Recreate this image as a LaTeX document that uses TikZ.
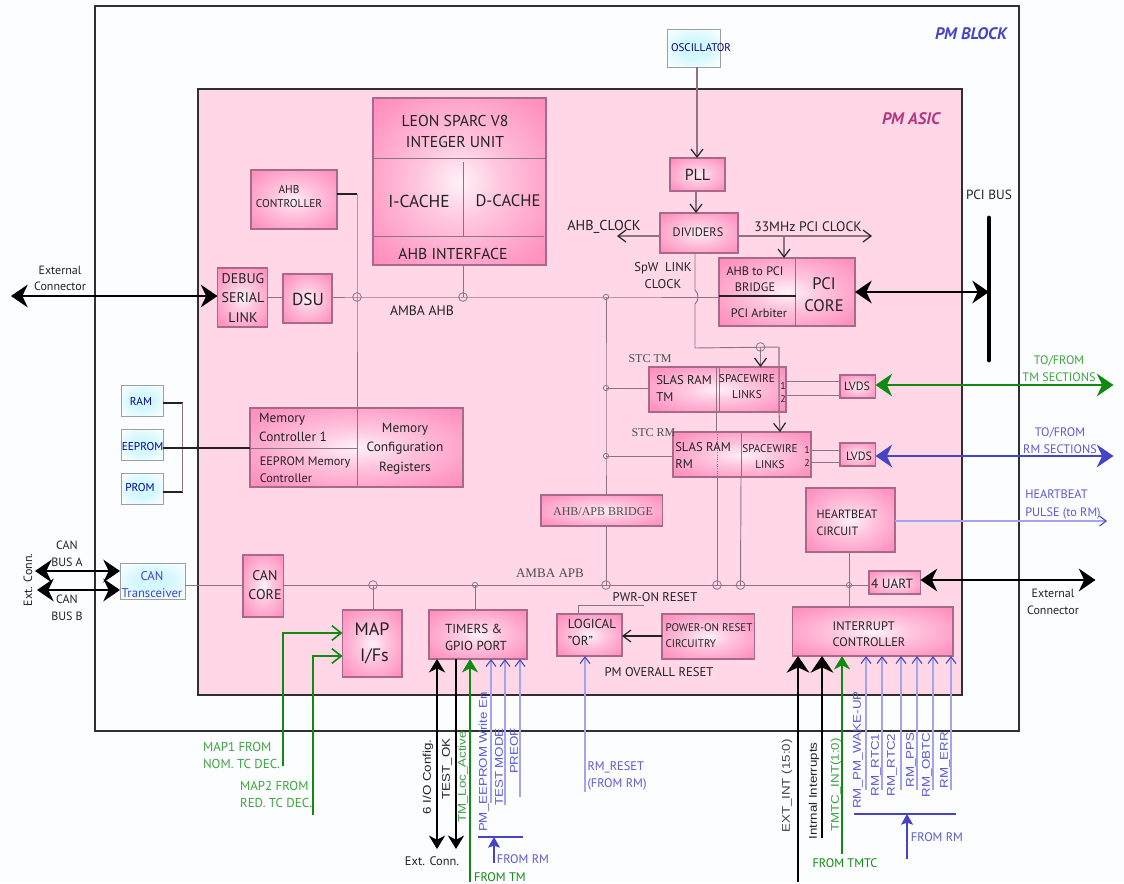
\documentclass[tikz,border=0pt]{standalone}
\usepackage{fontspec}
\setmainfont{PT Sans}
\newfontfamily\serf{Liberation Serif}
\newfontfamily\arial{Liberation Sans}
\usetikzlibrary{arrows.meta}
\definecolor{bgc}{HTML}{FCFDFF}
\definecolor{asicf}{HTML}{FFD7E7}
\definecolor{frame}{HTML}{303030}
\definecolor{edgec}{HTML}{A86A88}
\definecolor{wire}{HTML}{8E7482}
\definecolor{ink}{HTML}{222222}
\definecolor{blueD}{HTML}{4444C4}
\definecolor{blueT}{HTML}{5A5AD0}
\definecolor{blueL}{HTML}{A4A4EC}
\definecolor{greenD}{HTML}{108A10}
\definecolor{greenT}{HTML}{3FA33F}
\definecolor{pkA}{HTML}{FFF2F8}
\definecolor{pkB}{HTML}{FFC6DF}
\definecolor{pkC}{HTML}{FF96C2}
\definecolor{pkD}{HTML}{FF70A8}
\definecolor{cyA}{HTML}{D4F8FF}
\definecolor{cyB}{HTML}{F4FDFF}
\pgfdeclareradialshading{pinkrad}{\pgfpoint{0bp}{0bp}}{color(0bp)=(pkA); color(12bp)=(pkB); color(30bp)=(pkC); color(50bp)=(pkD)}
\pgfdeclareradialshading{cyanrad}{\pgfpoint{0bp}{0bp}}{color(0bp)=(cyA); color(14bp)=(cyA); color(30bp)=(cyB); color(38bp)=(white)}
\newcommand{\bx}[6]{%
  \pgfmathsetmacro\bw{(#5-#3)*0.75}\pgfmathsetmacro\bh{(#6-#4)*0.75}%
  \node[#1,minimum width=\bw pt,minimum height=\bh pt] (#2) at ({(#3+#5)/2},{(#4+#6)/2}) {};}
\newcommand{\rt}[1]{\scalebox{1}[0.84]{#1}}
\tikzset{
  frm/.style={draw=frame,line width=1.1pt,inner sep=0pt,outer sep=0pt},
  pinkbox/.style={draw=edgec,line width=0.8pt,shading=pinkrad,inner sep=0pt,outer sep=0pt},
  cyanbox/.style={draw=gray!75,line width=0.7pt,shading=cyanrad,inner sep=0pt,outer sep=0pt},
  sz/.style 2 args={font=\fontsize{#1}{#2}\selectfont},
  lbl/.style={inner sep=0pt,outer sep=0pt,align=center,text=ink},
  lbll/.style={inner sep=0pt,outer sep=0pt,align=left,text=ink},
  serlbl/.style={inner sep=0pt,outer sep=0pt,text=ink!80,font=\fontsize{9}{11}\selectfont\serf},
  rotb/.style={inner sep=0pt,outer sep=0pt,rotate=90,font=\fontsize{10}{12}\selectfont\arial},
  wireS/.style={draw=wire,line width=0.7pt},
  wireK/.style={draw=ink,line width=1pt},
  junc/.style={circle,draw=wire,line width=0.6pt,minimum size=6.5pt,inner sep=0pt,fill=none},
  juncS/.style={circle,draw=wire,line width=0.6pt,minimum size=4pt,inner sep=0pt,fill=asicf!60},
  thinTip/.style={-{Straight Barb[length=6pt,width=9pt,line width=0.9pt,ink]}},
  bigK/.style={draw=black,line width=1.7pt},
  bigG/.style={draw=greenD,line width=1.4pt},
  bigB/.style={draw=blueD,line width=1.2pt},
  Bhead/.tip={Stealth[length=12.5pt,width=17pt,inset=4pt]},
  Mhead/.tip={Stealth[length=10pt,width=12pt,inset=3pt]},
  Ghead/.tip={Stealth[length=10pt,width=12pt,inset=3pt]},
  thinB/.style={draw=blueL,line width=0.8pt},
  thinBtip/.style={-{Straight Barb[length=5pt,width=7.5pt,line width=0.8pt,blueD]}},
}
\begin{document}
\begin{tikzpicture}[x=0.75pt,y=-0.75pt]
\useasboundingbox (0,0) rectangle (1124,883);
\fill[bgc] (0,0) rectangle (1124,883);
% frames
\bx{frm,fill=bgc}{pmblock}{95}{6}{1019}{731}
\bx{frm,fill=asicf}{pmasic}{198}{89}{962}{695}
\node[inner sep=0pt,text=blueD,font=\fontsize{12.5}{14}\selectfont\bfseries\itshape] (tblock) at (971,34) {PM BLOCK};
\node[inner sep=0pt,text=magenta!70!black,font=\fontsize{12.5}{14}\selectfont\bfseries\itshape] (tasic) at (911,119) {PM ASIC};
% boxes
\bx{cyanbox}{osc}{667}{29}{720}{67}
\bx{pinkbox}{pll}{670}{158}{725}{191}
\bx{pinkbox}{div}{660}{213}{738}{253}
\bx{pinkbox}{leon}{373}{98}{546}{265}
\bx{pinkbox}{ahbc}{251}{170}{337}{229}
\bx{pinkbox}{dbg}{217.5}{268}{267.5}{327}
\bx{pinkbox}{dsu}{283}{274}{332}{323}
\bx{pinkbox}{pci}{719}{258}{855}{326}
\bx{pinkbox}{stm}{649}{367}{786}{412}
\bx{pinkbox}{srm}{673}{432}{811}{477}
\bx{pinkbox}{ltm}{840}{375}{875.5}{398}
\bx{pinkbox}{lrm}{840}{443}{875.5}{466}
\bx{cyanbox}{ram}{121}{385}{163}{416}
\bx{cyanbox}{eep}{121}{429}{163}{460}
\bx{cyanbox}{prom}{121}{473}{163}{504}
\bx{pinkbox}{mem}{250}{408}{463}{487}
\bx{cyanbox}{can}{120}{563}{185}{599}
\bx{pinkbox}{canc}{243}{555}{283.5}{617}
\bx{pinkbox}{map}{342.5}{610}{402}{677}
\bx{pinkbox}{tim}{429}{610}{527}{659}
\bx{pinkbox}{brg}{541}{495}{662.5}{526}
\bx{pinkbox}{hb}{806}{488}{895}{552}
\bx{pinkbox}{uart}{869}{571}{920.5}{594}
\bx{pinkbox}{lor}{557}{614}{622}{656}
\bx{pinkbox}{por}{662}{614}{754.5}{659}
\bx{pinkbox}{irq}{792.5}{607}{953}{656}
% junctions
\node[junc] (j1) at (357,297) {};
\node[junc] (j2) at (463,297) {};
\node[juncS] (j3) at (606,297) {};
\node[juncS] (j4) at (606,388) {};
\node[juncS] (j5) at (606,456) {};
\node[junc] (j6) at (760.5,347) {};
\node[junc] (a1) at (373,585) {};
\node[juncS] (a2) at (475,585) {};
\node[junc] (a3) at (606,585) {};
\node[junc] (a4) at (717,585) {};
\node[junc] (a5) at (740.5,585) {};
\node[juncS] (a6) at (849,585) {};
% internal dividers of multi-part blocks
\draw[wireS] (373,158) -- (546,158);
\draw[wireS] (373,236) -- (544,236);
\draw[wireS] (463,162) -- (463,236);
\draw[wireS] (795.5,258) -- (795.5,326);
\draw[wireK,line width=1pt] (719,296) -- (795.5,296);
\draw[wireS] (716,367) -- (716,412);
\draw[wireS] (719,367) -- (719,412);
\draw[wireS,densely dotted] (779,367) -- (779,412);
\draw[wireS,densely dotted] (717,432) -- (717,477);
\draw[wireS] (741,432) -- (741,477);
\draw[wireS] (357,408) -- (357,487);
\draw[wireS] (250,448) -- (357,448);
% AHB bus
\coordinate (busE) at (719,297);
\draw[wireS] (dbg.east |- j1) -- (dsu.west |- j1);
\draw[wireS] (dsu.east |- j1) -- (j1.center) -- (j2.center) -- (j3.center) -- (busE);
\draw[wireS] (j2.center) -- (leon.south -| j2);
\draw[wireK] (ahbc.east |- 0,194) -- (357,194);
\draw[wireS] (357,194) -- (j1.center) -- (mem.north -| j1);
\draw[wireS] (j3.center) -- (j4.center) -- (j5.center) -- (brg.north -| j3);
\draw[wireS] (j4.center) -- (stm.west |- j4);
\draw[wireS] (j5.center) -- (srm.west |- j5);
% clocks
\draw[wire,line width=0.9pt,thinTip] (osc.south -| 697,0) -- (pll.north -| 697,0);
\draw[wire,line width=0.9pt,thinTip] (pll.south -| 696,0) -- (div.north -| 696,0);
\coordinate (ahbclk) at (617,236);
\coordinate (pciclk) at (872,236);
\coordinate (hopA) at (695,290);
\coordinate (hopB) at (695,304);
\coordinate (spwC) at (695,348);
\coordinate (spwR) at (779,347);
\draw[wire,line width=0.8pt,thinTip] (div.west |- ahbclk) -- (ahbclk);
\draw[wire,line width=0.8pt,thinTip] (div.east |- pciclk) -- (pciclk);
\draw[wire,line width=0.8pt,thinTip] (784,236) -- (pci.north -| 784,0);
\draw[wireS] (div.south -| hopA) -- (hopA) .. controls (699,293) and (699,301) .. (hopB) -- (spwC) -- (spwR);
\draw[wire,line width=0.8pt,thinTip] (j6.center) -- (stm.north -| j6);
\draw[wire,line width=0.8pt,thinTip] (spwR) -- (779,412) -- (srm.north -| 780,0);
% spacewire to bus, LVDS
\draw[wireS] (716.5,412) -- (716.5,432);
\draw[wireS] (717,477) -- (a4.center);
\draw[wireS] (741,477) -- (a5.center);
\draw[wireS] (stm.east |- 0,381) -- (ltm.west |- 0,381);
\draw[wireS] (stm.east |- 0,395) -- (ltm.west |- 0,395);
\draw[wireS] (srm.east |- 0,450) -- (lrm.west |- 0,450);
\draw[wireS] (srm.east |- 0,462) -- (lrm.west |- 0,462);
% APB bus
\draw[wireS] (can.east |- a1) -- (canc.west |- a1);
\draw[wireS] (canc.east |- a1) -- (a1.center) -- (a2.center) -- (a3.center) -- (a4.center) -- (a5.center) -- (a6.center) -- (uart.west |- a6);
\draw[wireS] (a1.center) -- (map.north -| a1);
\draw[wireS] (a2.center) -- (tim.north -| a2);
\draw[wireS] (brg.south -| a3) -- (a3.center);
\draw[wireS] (hb.south -| a6) -- (a6.center) -- (irq.north -| a6);
% memories
\coordinate (brT) at (182.5,403);
\coordinate (brB) at (182.5,492);
\draw[wireK] (ram.east |- brT) -- (brT);
\draw[wireK] (prom.east |- brB) -- (brB);
\draw[wireS] (brT) -- (brB);
\draw[wireK] (eep.east |- 0,448) -- (mem.west |- 0,448);
% reset
\coordinate (pwrR) at (643.5,605);
\coordinate (pwrL) at (578.5,605);
\draw[wireS] (pwrR) -- (pwrL) -- (lor.north -| pwrL);
\draw[wire,line width=0.8pt,thinTip,draw=ink] (por.west |- 0,636) -- (lor.east |- 0,636);
% thick bidirectional arrows
\coordinate (extL) at (11,296);
\draw[bigK,Bhead-Bhead] (extL) -- (dbg.west |- extL);
\coordinate (canAL) at (35,571);
\coordinate (canBL) at (37,590);
\draw[bigK,Bhead-Bhead] (canAL) -- (can.west |- canAL);
\draw[bigK,Bhead-Bhead] (canBL) -- (can.west |- canBL);
\coordinate (pciB) at (989,292);
\draw[bigK,Bhead-Bhead] (pci.east |- pciB) -- (pciB);
\coordinate (pciT) at (989,218);
\coordinate (pciBt) at (989,360);
\draw[black,line width=3.6pt,line cap=round] (pciT) -- (pciBt);
\coordinate (tmR) at (1113.5,385);
\coordinate (rmR) at (1113.5,456);
\coordinate (uartR) at (1095.5,580);
\draw[bigG,Bhead-Bhead] (ltm.east |- tmR) -- (tmR);
\draw[bigB,Bhead-Bhead] (lrm.east |- rmR) -- (rmR);
\draw[bigK,Bhead-Bhead] (uart.east |- uartR) -- (uartR);
\coordinate (hbR) at (1107,521);
\draw[blueL,line width=0.8pt,-{Straight Barb[length=5pt,width=7.5pt,line width=0.8pt,blueD]}] (hb.east |- hbR) -- (hbR);
% MAP
\coordinate (m1B) at (283,766);
\coordinate (m2B) at (313,815);
\draw[bigG,line width=1pt,-{Straight Barb[length=7pt,width=11pt,line width=1.2pt]}] (m1B) -- (283,633) -- (map.west |- 0,633);
\draw[bigG,line width=1pt,-{Straight Barb[length=7pt,width=11pt,line width=1.2pt]}] (m2B) -- (313,656) -- (map.west |- 0,656);
% timers signals
\coordinate (io) at (437,849);
\coordinate (tok) at (456,849);
\coordinate (ftm) at (470,882);
\draw[bigK,Mhead-Mhead] (tim.south -| io) -- (io);
\draw[bigK,-Mhead] (tim.south -| tok) -- (tok);
\draw[bigG,-Ghead] (ftm) -- (tim.south -| ftm);
\coordinate (pe) at (491,803);
\coordinate (tm) at (505,805);
\coordinate (pr) at (520,797);
\draw[thinB,thinBtip] (pe) -- (tim.south -| pe);
\draw[thinB,thinBtip] (tm) -- (tim.south -| tm);
\draw[thinB,thinBtip] (pr) -- (tim.south -| pr);
\coordinate (fr1L) at (478,837);
\coordinate (fr1R) at (523,837);
\coordinate (fr1U) at (494,837);
\coordinate (fr1B) at (494,863);
\draw[blueD,line width=1pt] (fr1L) -- (fr1R);
\draw[blueD,line width=1pt,-{Stealth[length=8pt,width=9pt,inset=1.5pt]}] (fr1B) -- (fr1U);
\coordinate (rr) at (585,792);
\draw[thinB,thinBtip] (rr) -- (lor.south -| rr);
% interrupts
\coordinate (iext) at (798,882);
\coordinate (iint) at (822,838);
\coordinate (itm) at (842,854);
\draw[bigK,-Bhead] (iext) -- (irq.south -| iext);
\draw[bigK,-Bhead] (iint) -- (irq.south -| iint);
\draw[bigG,-Ghead] (itm) -- (irq.south -| itm);
\foreach \n/\xx in {r1/866,r2/882,r3/901,r4/917,r5/933,r6/951}{
  \coordinate (\n) at (\xx,790);
  \draw[thinB,thinBtip] (\n) -- (irq.south -| \n);
}
\coordinate (fr2L) at (854,814);
\coordinate (fr2R) at (956,814);
\coordinate (fr2U) at (907,814);
\coordinate (fr2B) at (907,859);
\draw[blueD,line width=1pt] (fr2L) -- (fr2R);
\draw[blueD,line width=1pt,-{Stealth[length=8pt,width=9pt,inset=1.5pt]}] (fr2B) -- (fr2U);
% box labels
\node[lbl,sz={8.3}{10},text=blue!50!black] (tosc) at (701,48) {OSCILLATOR};
\node[lbl,sz={11.8}{15.5}] (t1) at (455,131.5) {LEON SPARC V8\\INTEGER UNIT};
\node[lbl,sz={13}{14}] (t2) at (419,201) {I-CACHE};
\node[lbl,sz={12.5}{14}] (t3) at (508,201) {D-CACHE};
\node[lbl,sz={11.8}{14}] (t4) at (453,254) {AHB INTERFACE};
\node[lbl,sz={8.5}{11}] (t5) at (289,196.5) {AHB\\CONTROLLER};
\node[lbl,sz={10.5}{14.5}] (t6) at (243,298) {DEBUG\\SERIAL\\LINK};
\node[lbl,sz={13}{15}] (t7) at (308,299) {DSU};
\node[lbl,sz={10.3}{11}] (t8) at (422,311) {AMBA AHB};
\node[lbl,sz={9}{12.5}] (t9) at (60,278.5) {External\\Connector};
\node[lbl,sz={12}{14}] (tpll) at (697.5,175) {PLL};
\node[lbl,sz={9.2}{11}] (tdiv) at (698,232) {DIVIDERS};
\node[lbl,sz={10.7}{12}] (tac) at (604,227) {AHB\_CLOCK};
\node[lbl,sz={10.3}{12}] (tpc) at (808,227) {33MHz PCI CLOCK};
\node[lbl,sz={9.5}{13}] (tsp) at (663,275.5) {SpW\ \ LINK\\CLOCK};
\node[lbl,sz={9.2}{12.2}] (tb1) at (755,279) {AHB to PCI\\BRIDGE};
\node[lbl,sz={9.2}{11}] (tb2) at (759,313) {PCI Arbiter};
\node[lbl,sz={12.5}{16.5}] (tb3) at (824,295) {PCI\\CORE};
\node[lbl,sz={10}{12}] (tbus) at (989,195) {PCI BUS};
\node[serlbl] (tstm) at (650,359) {STC TM};
\node[serlbl] (tsrm) at (653.5,433) {STC RM};
\node[lbll,sz={9.5}{13}] (ts1) at (684,388.5) {SLAS RAM\\TM};
\node[lbl,sz={8.5}{12}] (ts2) at (747,387) {SPACEWIRE\\LINKS};
\node[lbl,sz={7.5}{10}] (ts3) at (783,392.5) {1\\2};
\node[lbll,sz={9.5}{13}] (ts4) at (703,455.5) {SLAS RAM\\RM};
\node[lbl,sz={8.4}{12}] (ts5) at (770,457) {SPACEWIRE\\LINKS};
\node[lbl,sz={7.5}{10}] (ts6) at (807,456.5) {1\\2};
\node[lbl,sz={9}{11}] (tl1) at (857,386) {LVDS};
\node[lbl,sz={9}{11}] (tl2) at (859,456) {LVDS};
\node[lbl,sz={9.2}{12.8},text=greenT] (tg) at (1059,368.5) {TO/FROM\\TM SECTIONS};
\node[lbl,sz={9.2}{12.8},text=blueT] (tbl) at (1060,440.5) {TO/FROM\\RM SECTIONS};
\node[lbl,sz={8.5}{11},text=blue!60!black] (tr1) at (141,401) {RAM};
\node[lbl,sz={8.5}{11},text=blue!60!black] (tr2) at (142.5,447) {EEPROM};
\node[lbl,sz={8.5}{11},text=blue!60!black] (tr3) at (140,488) {PROM};
\node[lbll,sz={10}{14}] (tm1) at (293,427.5) {Memory\\Controller 1};
\node[lbll,sz={9.2}{13}] (tm2) at (305,469.5) {EEPROM Memory\\Controller};
\node[lbl,sz={10}{14.6}] (tm3) at (405,448.5) {Memory\\Configuration\\Registers};
\node[lbl,sz={9.5}{12.8},text=blueD] (tc1) at (152,584.5) {CAN\\Transceiver};
\node[lbl,sz={9}{12.5}] (tc2) at (67,554) {CAN\\BUS A};
\node[lbl,sz={9}{12.5}] (tc3) at (67,607.5) {CAN\\BUS B};
\node[lbl,sz={9}{11},rotate=90] (tc4) at (28,580) {Ext. Conn.};
\node[lbl,sz={10.5}{14}] (tc5) at (265,585) {CAN\\CORE};
\node[lbl,sz={13.5}{19}] (tmap) at (372,643.5) {MAP\\\ I/Fs};
\node[lbll,sz={9.8}{12.8}] (ttim) at (476,637.5) {TIMERS \&\\GPIO PORT};
\node[inner sep=0pt,text=ink!80,font=\fontsize{9.8}{11}\selectfont\serf] (tapb) at (550,573) {AMBA APB};
\node[serlbl] (tbrg) at (603,512) {AHB/APB BRIDGE};
\node[lbll,sz={9}{12.8}] (thb) at (847,522.5) {HEARTBEAT\\CIRCUIT};
\node[lbl,sz={10}{12}] (tua) at (892,584) {4 UART};
\node[lbll,sz={9.2}{12.8},text=blueT] (tpul) at (1063,504.5) {HEARTBEAT\\PULSE (to RM)};
\node[lbl,sz={9}{12.8}] (tex) at (1053,601.5) {External\\Connector};
\node[lbl,sz={9.5}{12}] (tpw) at (655,597) {PWR-ON RESET};
\node[lbll,sz={9.8}{12.8}] (tlo) at (592,632.5) {LOGICAL\\"OR"};
\node[lbll,sz={8.3}{11.5}] (tpo) at (709,635.5) {POWER-ON RESET\\CIRCUITRY};
\node[lbl,sz={9.5}{12}] (tov) at (659,672) {PM OVERALL RESET};
\node[lbll,sz={9.3}{12.4}] (tir) at (869,634) {INTERRUPT\\CONTROLLER};
% outside labels
\node[lbll,sz={9.7}{12.8},text=greenT] (tm1l) at (241.5,755.5) {MAP1 FROM\\NOM. TC DEC.};
\node[lbll,sz={9.7}{12.8},text=greenT] (tm2l) at (276,794.5) {MAP2 FROM\\RED. TC DEC.};
\node[rotb,text=ink] (v1) at (428,777) {\rt{6 I/O Config.}};
\node[rotb,text=ink] (v2) at (447,769) {\rt{TEST\_OK}};
\node[rotb,text=greenT] (v3) at (463,777) {\rt{TM\_Loc\_Active}};
\node[rotb,text=blueT] (v4) at (484,762) {\rt{PM\_EEPROM Write En}};
\node[rotb,text=blueT] (v5) at (499,767) {\rt{TEST MODE}};
\node[rotb,text=blueT] (v6) at (514,751) {\rt{PREOF}};
\node[lbl,sz={9.3}{12}] (te) at (432,861) {Ext. Conn.};
\node[lbl,sz={9.3}{12},text=blueT] (tf1) at (523,859) {FROM RM};
\node[lbl,sz={9.3}{12},text=greenD] (tf2) at (500,877) {FROM TM};
\node[lbll,sz={9.3}{12.8},text=blueT] (trr) at (617,775.5) {RM\_RESET\\(FROM RM)};
\node[rotb,text=ink!85] (w1) at (787,786) {\rt{EXT\_INT (15:0)}};
\node[rotb,text=ink] (w2) at (814,791) {\rt{Intrnal Interrupts}};
\node[rotb,text=greenT] (w3) at (836,785) {\rt{TMTC\_INT(1:0)}};
\node[rotb,text=blueT] (w4) at (858,750) {\rt{RM\_PM\_WAKE-UP}};
\node[rotb,text=blueT] (w5) at (876,765) {\rt{RM\_RTC1}};
\node[rotb,text=blueT] (w6) at (892,765) {\rt{RM\_RTC2}};
\node[rotb,text=blueT] (w7) at (911,760) {\rt{RM\_PPS}};
\node[rotb,text=blueT] (w8) at (927,765) {\rt{RM\_OBTC}};
\node[rotb,text=blueT] (w9) at (945,760) {\rt{RM\_ERR}};
\node[lbl,sz={9.3}{12},text=blueT] (tf3) at (937,837) {FROM RM};
\node[lbl,sz={9.3}{12},text=greenD] (tf4) at (845,863) {FROM TMTC};
\end{tikzpicture}
\end{document}
